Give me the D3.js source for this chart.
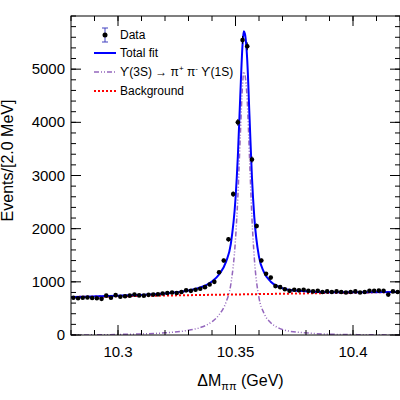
<!DOCTYPE html>
<html><head><meta charset="utf-8">
<script src="https://cdn.jsdelivr.net/npm/d3@7"></script>
<style>body{margin:0;background:#fff}text{font-family:"Liberation Sans",Arial,sans-serif}</style>
</head><body><div id="chart"></div>
<script>
// data points: bin centres (GeV) and counts
var binCentres = [10.281,10.283,10.285,10.287,10.289,10.291,10.293,10.295,10.297,10.299,
  10.301,10.303,10.305,10.307,10.309,10.311,10.313,10.315,10.317,10.319,
  10.321,10.323,10.325,10.327,10.329,10.331,10.333,10.335,10.337,10.339,
  10.341,10.343,10.345,10.347,10.349,10.351,10.353,10.355,10.357,10.359,
  10.361,10.363,10.365,10.367,10.369,10.371,10.373,10.375,10.377,10.379,
  10.381,10.383,10.385,10.387,10.389,10.391,10.393,10.395,10.397,10.399,
  10.401,10.403,10.405,10.407,10.409,10.411,10.413,10.415,10.417,10.419];
var counts = [700,690,700,705,695,690,680,740,700,750,
  720,730,740,760,745,740,755,760,765,780,
  790,800,790,810,840,830,850,870,900,950,
  1000,1180,1400,1800,2650,4000,5550,5430,3300,2050,
  1400,1150,1080,920,900,860,830,850,840,850,
  830,820,830,810,820,810,820,810,800,810,
  820,800,810,830,830,835,830,760,820,810];

// signal curve
var sigX = [10.28,10.30,10.32,10.33,10.335,10.34,10.343,10.346,10.348,10.350,10.351,10.352,10.353,10.3535,10.354,10.355,10.356,10.357,10.358,10.360,10.362,10.365,10.368,10.372,10.38,10.39,10.40,10.42];
var sigY = [0,10,40,90,140,250,380,620,950,1800,2600,3700,4700,4950,4900,4400,3300,2200,1450,700,420,230,140,80,40,15,8,0];
// background (linear)
var bgX = [10.28, 10.42];
var bgY = [715, 810];

var xTicks = [10.3, 10.35, 10.4];
var yTicks = [0, 1000, 2000, 3000, 4000, 5000];

var margin = {top: 16, right: 0, bottom: 65, left: 71},
    width = 400 - margin.left - margin.right,
    height = 400 - margin.top - margin.bottom;

var svg = d3.select("#chart").append("svg")
    .attr("width", 400).attr("height", 400)
  .append("g")
    .attr("transform", "translate(" + margin.left + "," + margin.top + ")");

var x = d3.scaleLinear().domain([10.28, 10.42]).range([0, width]);
var y = d3.scaleLinear().domain([0, 6000]).range([height, 0]);

var bgAt = d3.scaleLinear().domain(bgX).range(bgY);
var sigAt = d3.scaleLinear().domain(sigX).range(sigY);

var defs = svg.append("defs");
defs.append("clipPath").attr("id", "clip").append("rect").attr("width", width).attr("height", height);
var plot = svg.append("g").attr("clip-path", "url(#clip)");

var line = d3.line().x(function(d) { return x(d[0]); }).y(function(d) { return y(d[1]); }).curve(d3.curveMonotoneX);

// background
plot.append("path").datum(bgX.map(function(v, i) { return [v, bgY[i]]; }))
  .attr("d", line).attr("fill", "none").attr("stroke", "#ff0000")
  .attr("stroke-width", 2).attr("stroke-dasharray", "2,2");
// signal
plot.append("path").datum(sigX.map(function(v, i) { return [v, sigY[i]]; }))
  .attr("d", line).attr("fill", "none").attr("stroke", "#9467bd")
  .attr("stroke-width", 1.5).attr("stroke-dasharray", "5,2,1,2,1,2");
// total
plot.append("path").datum(sigX.map(function(v, i) { return [v, sigY[i] + bgAt(v)]; }))
  .attr("d", line).attr("fill", "none").attr("stroke", "#0000ff").attr("stroke-width", 2);

// data
var pts = plot.selectAll(".pt").data(binCentres.map(function(v, i) { return [v, counts[i]]; }))
  .enter().append("g");
pts.append("line")
  .attr("x1", function(d) { return x(d[0]); }).attr("x2", function(d) { return x(d[0]); })
  .attr("y1", function(d) { return y(d[1] + Math.sqrt(d[1])); })
  .attr("y2", function(d) { return y(d[1] - Math.sqrt(d[1])); })
  .attr("stroke", "#000");
pts.append("circle").attr("cx", function(d) { return x(d[0]); }).attr("cy", function(d) { return y(d[1]); })
  .attr("r", 2.3).attr("fill", "#000");

// axes with inward ticks (ROOT style)
var axisG = svg.append("g").attr("stroke", "#000");
var xMinor = d3.range(10.28, 10.4201, 0.01);
var yMinor = d3.range(0, 6001, 200);
function ticks(vals, scale, len, horiz) {
  vals.forEach(function(v) {
    var p = scale(v);
    if (horiz) {
      axisG.append("line").attr("x1", p).attr("x2", p).attr("y1", height).attr("y2", height - len);
      axisG.append("line").attr("x1", p).attr("x2", p).attr("y1", 0).attr("y2", len);
    } else {
      axisG.append("line").attr("y1", p).attr("y2", p).attr("x1", 0).attr("x2", len);
      axisG.append("line").attr("y1", p).attr("y2", p).attr("x1", width).attr("x2", width - len);
    }
  });
}
ticks(xMinor, x, 5, true);
ticks(xTicks, x, 10, true);
ticks(yMinor, y, 5, false);
ticks(yTicks, y, 10, false);
svg.append("rect").attr("width", width).attr("height", height).attr("fill", "none").attr("stroke", "#000");

svg.selectAll(".xl").data(xTicks).enter().append("text")
  .attr("x", function(d) { return x(d); }).attr("y", height + 22)
  .attr("text-anchor", "middle").attr("font-size", 15).text(function(d) { return d; });
svg.selectAll(".yl").data(yTicks).enter().append("text")
  .attr("x", -6).attr("y", function(d) { return y(d) + 5; })
  .attr("text-anchor", "end").attr("font-size", 15).text(function(d) { return d; });

var xt = svg.append("text").attr("x", width / 2 + 5).attr("y", height + 51)
  .attr("text-anchor", "middle").attr("font-size", 16);
xt.append("tspan").text("ΔM");
xt.append("tspan").attr("font-size", 11).attr("dy", 4).text("ππ");
xt.append("tspan").attr("dy", -4).text(" (GeV)");

svg.append("text").attr("transform", "translate(-58," + (height / 2 - 15) + ") rotate(-90)")
  .attr("text-anchor", "middle").attr("font-size", 16).text("Events/[2.0 MeV]");

// legend
var lg = svg.append("g").attr("transform", "translate(0,0)");
var ly = [19, 37, 56, 75];
lg.append("line").attr("x1", 34).attr("x2", 34).attr("y1", ly[0] - 7).attr("y2", ly[0] + 7).attr("stroke", "#4040c0");
lg.append("line").attr("x1", 31).attr("x2", 37).attr("y1", ly[0] - 7).attr("y2", ly[0] - 7).attr("stroke", "#4040c0");
lg.append("line").attr("x1", 31).attr("x2", 37).attr("y1", ly[0] + 7).attr("y2", ly[0] + 7).attr("stroke", "#4040c0");
lg.append("circle").attr("cx", 34).attr("cy", ly[0]).attr("r", 2.5).attr("fill", "#000");
lg.append("line").attr("x1", 23).attr("x2", 45).attr("y1", ly[1]).attr("y2", ly[1]).attr("stroke", "#0000ff").attr("stroke-width", 2);
lg.append("line").attr("x1", 23).attr("x2", 45).attr("y1", ly[2]).attr("y2", ly[2]).attr("stroke", "#9467bd").attr("stroke-width", 1.5).attr("stroke-dasharray", "5,2,1,2,1,2");
lg.append("line").attr("x1", 23).attr("x2", 45).attr("y1", ly[3]).attr("y2", ly[3]).attr("stroke", "#ff0000").attr("stroke-width", 2).attr("stroke-dasharray", "2,2");
var labels = ["Data", "Total fit", null, "Background"];
labels.forEach(function(t, i) {
  if (t) lg.append("text").attr("x", 49).attr("y", ly[i] + 4).attr("font-size", 12).text(t);
});
var sl = lg.append("text").attr("x", 49).attr("y", ly[2] + 4).attr("font-size", 12);
sl.append("tspan").text("ϒ(3S) → π");
sl.append("tspan").attr("font-size", 8).attr("dy", -5).text("+");
sl.append("tspan").attr("dy", 5).text(" π");
sl.append("tspan").attr("font-size", 8).attr("dy", -5).text("-");
sl.append("tspan").attr("dy", 5).text(" ϒ(1S)");
</script></body></html>
